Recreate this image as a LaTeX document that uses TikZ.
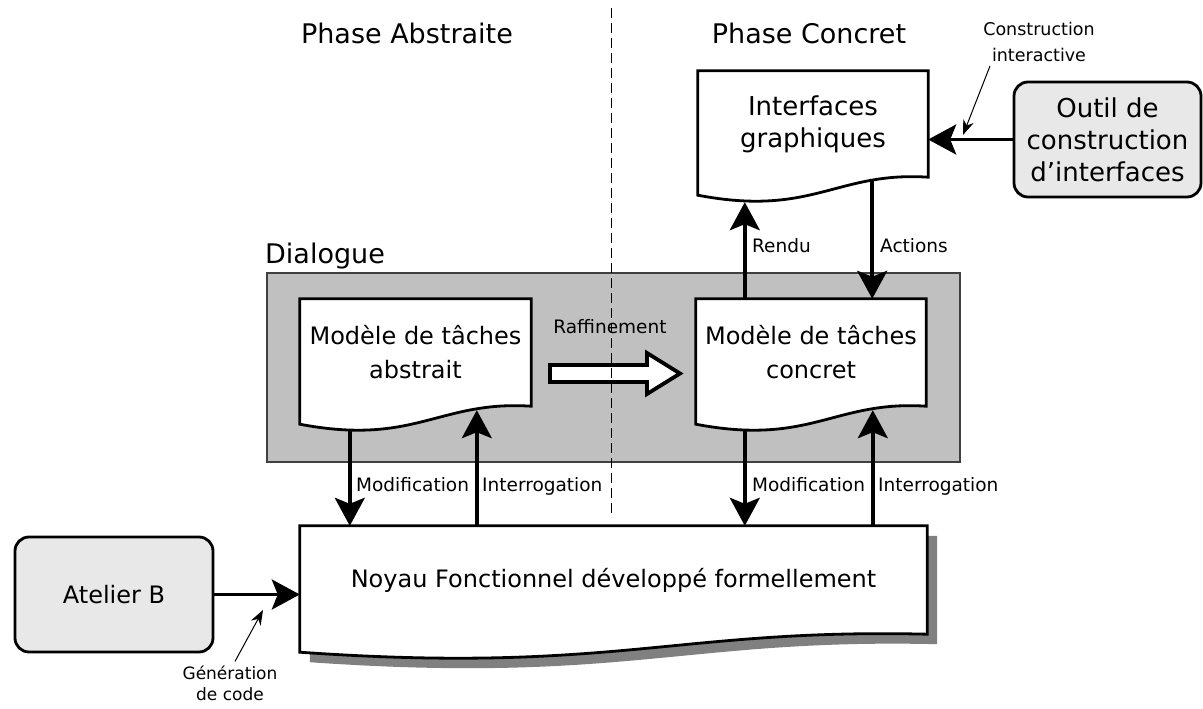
\documentclass[tikz,border=0pt]{standalone}
\usepackage{fontspec}
\setmainfont{DejaVu Sans}
\usetikzlibrary{arrows.meta,calc,backgrounds}

\definecolor{dialoggray}{HTML}{C0C0C0}
\definecolor{toolgray}{HTML}{E8E8E8}
\definecolor{shadowgray}{HTML}{808080}

% document outline with wavy bottom edge, drawn around a named node
\newcommand\docoutline[2][]{%
  \draw[docline,#1] (#2.north west) -- (#2.north east) -- (#2.south east)
    .. controls ($(#2.south east)!0.4!(#2.south west)+(0,-6)$)
    and ($(#2.south west)!0.5!(#2.south east)+(0,40)$)
    .. ($(#2.south west)+(0,18)$) -- cycle;}

\begin{document}
\begin{tikzpicture}[x=1pt,y=-1pt,
    docbox/.style={inner sep=0pt, align=center, font=\fontsize{24}{34}\selectfont},
    docline/.style={line width=2.8pt, fill=white, line join=miter},
    toolbox/.style={draw, line width=2.8pt, fill=toolgray, rounded corners=14pt, align=center, inner sep=0pt},
    arr/.style={line width=3.5pt, -{Stealth[length=28pt,width=30pt,inset=6pt]}},
    ptr/.style={line width=1pt, -{Stealth[length=15pt,width=11pt]}},
    raff/.style={line width=3.8pt, fill=white, line join=miter},
    lbl/.style={inner sep=0pt, font=\fontsize{18.5}{24}\selectfont},
    phase/.style={inner sep=0pt, font=\fontsize{27}{32}\selectfont},
    sep/.style={line width=1pt, dash pattern=on 10pt off 5pt}
  ]
  \useasboundingbox (0,0) rectangle (1203,709);

  % boxes
  \node[docbox, minimum width=231pt, minimum height=107pt] (abs) at (415.5,352.5) {Modèle de tâches\\abstrait};
  \node[docbox, minimum width=230pt, minimum height=107pt] (con) at (811,352.5) {Modèle de tâches\\concret};
  \node[docbox, minimum width=230pt, minimum height=106pt, font=\fontsize{26}{32}\selectfont] (gui) at (813,124) {Interfaces\\graphiques};
  \node[docbox, minimum width=627pt, minimum height=108pt] (noyau) at (613.5,580) {Noyau Fonctionnel développé formellement};
  \node[toolbox, minimum width=187pt, minimum height=115pt, font=\fontsize{26}{32}\selectfont] (outil) at (1107.5,139.5) {Outil de\\construction\\d’interfaces};
  \node[toolbox, minimum width=198pt, minimum height=115pt, font=\fontsize{24}{30}\selectfont] (atelier) at (114,594.5) {Atelier B};

  \begin{scope}[on background layer]
    \draw[line width=1.5pt, draw=black!75, fill=dialoggray] (267,273) rectangle (960,462);
    \docoutline{abs}
    \docoutline{con}
    \docoutline{gui}
    \docoutline[transform canvas={xshift=10pt,yshift=-10pt}, fill=shadowgray, draw=none]{noyau}
    \docoutline{noyau}
  \end{scope}

  % headings
  \node[phase, anchor=base] (pabs) at (407,44) {Phase Abstraite};
  \node[phase, anchor=base] (pcon) at (809,44) {Phase Concret};
  \node[phase, anchor=base west] (dial) at (265,263) {Dialogue};

  % dialogue <-> noyau
  \draw[arr] ([xshift=50pt,yshift=-24pt]abs.south west) -- ([xshift=50pt]noyau.north west);
  \draw[arr] ([xshift=177pt]noyau.north west) -- ([xshift=177pt,yshift=-4pt]abs.south west);
  \draw[arr] ([xshift=49pt,yshift=-24pt]con.south west) -- ([xshift=445pt]noyau.north west);
  \draw[arr] ([xshift=573pt]noyau.north west) -- ([xshift=177pt,yshift=-4pt]con.south west);
  \node[lbl, anchor=base west] (modabs) at (356,491) {Modification};
  \node[lbl, anchor=base west] (intabs) at (482,491) {Interrogation};
  \node[lbl, anchor=base west] (modcon) at (752,491) {Modification};
  \node[lbl, anchor=base west] (intcon) at (878,491) {Interrogation};

  % concret <-> interfaces
  \draw[arr] ([xshift=49pt]con.north west) -- ([xshift=47pt,yshift=-25pt]gui.south west);
  \draw[arr] ([xshift=-56pt,yshift=-3pt]gui.south east) -- ([xshift=-54pt]con.north east);
  \node[lbl, anchor=base west] (rendu) at (752,252) {Rendu};
  \node[lbl, anchor=base west] (actions) at (880,252) {Actions};

  % outils
  \draw[arr] (outil.west) -- (outil.west -| gui.east);
  \draw[arr] (atelier.east) -- (atelier.east -| noyau.west);
  \node[lbl, align=center, font=\fontsize{17.5}{26}\selectfont] (constr) at (1039,42) {Construction\\interactive};
  \coordinate (constrtip) at (963,135);
  \draw[ptr] ([xshift=-49pt,yshift=-4pt]constr.south) -- (constrtip);
  \node[lbl, align=center, font=\fontsize{17}{21}\selectfont] (gen) at (230,683) {Génération\\de code};
  \coordinate (gentip) at (263,610);
  \draw[ptr] ([xshift=5pt,yshift=4pt]gen.north) -- (gentip);

  % raffinement
  \draw[raff] (550,365) -- (647,365) -- (647,353) -- (680,373.5) -- (647,394) -- (647,382) -- (550,382) -- cycle;
  \node[lbl, anchor=base] (raffl) at (610,333) {Raffinement};

  \draw[sep] (611,8) -- (611,513);
\end{tikzpicture}
\end{document}
